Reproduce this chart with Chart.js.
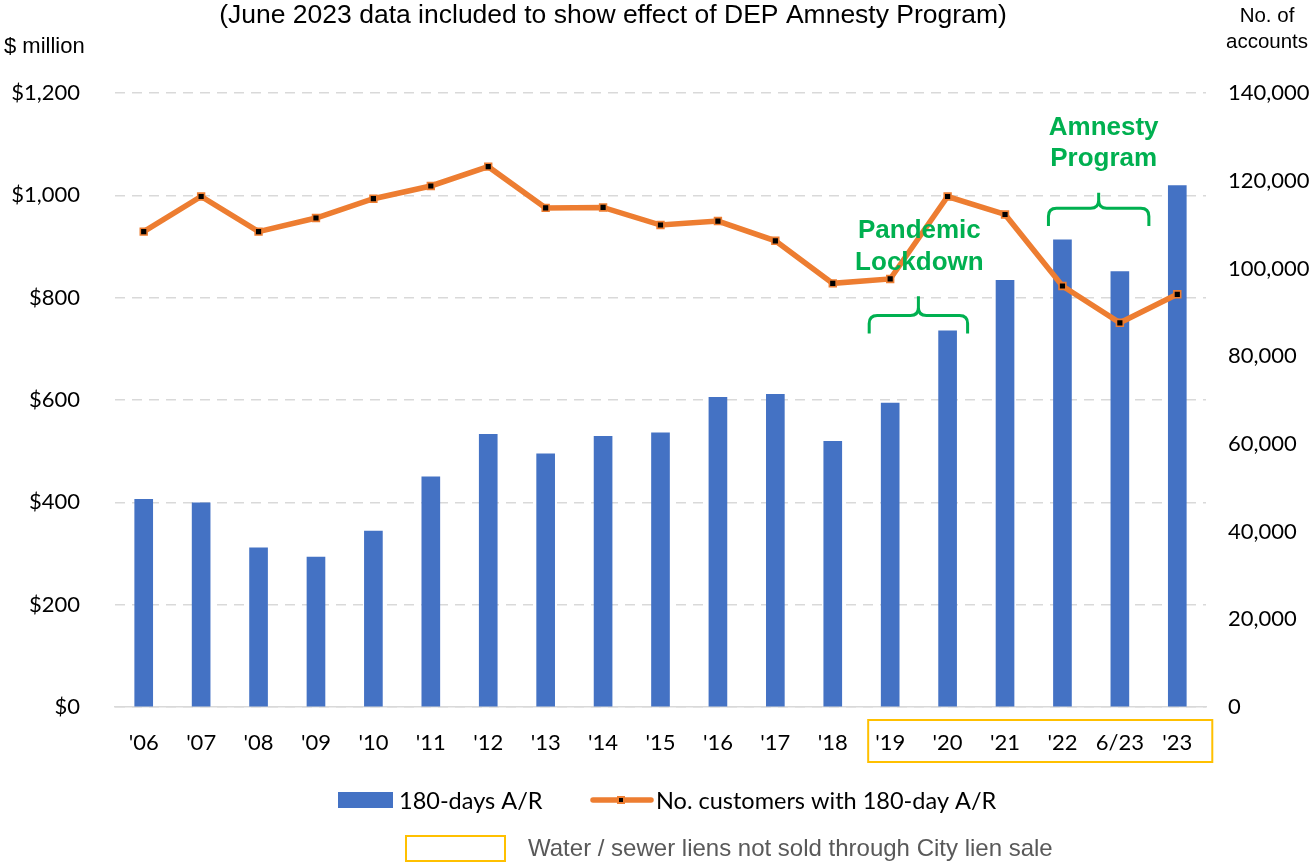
<!DOCTYPE html>
<html>
<head>
<meta charset="utf-8">
<script src="https://cdn.jsdelivr.net/npm/chart.js@4.4.1/dist/chart.umd.min.js"></script>
<style>
  html, body { margin: 0; padding: 0; background: #fff; }
  #wrap { position: relative; width: 1314px; height: 864px; }
  canvas { display: block; }
</style>
</head>
<body>
<div id="wrap"><canvas id="c" width="1314" height="864"></canvas></div>
<script>
// ---- Data ----
const categories = ["'06","'07","'08","'09","'10","'11","'12","'13","'14","'15","'16","'17","'18","'19","'20","'21","'22","6/23","'23"];
const arMillions = [406,399,311,293,344,450,533,495,529,536,605,611,519,594,735,834,913,851,1019];
const customers = [108400,116400,108400,111500,115900,118800,123200,113800,113900,109900,110800,106300,96600,97600,116400,112300,96000,87600,94100];
const leftTicks = [0,200,400,600,800,1000,1200];
const rightTicks = [0,20000,40000,60000,80000,100000,120000,140000];
const titleText = "(June 2023 data included to show effect of DEP Amnesty Program)";
const leftAxisTitle = "$ million";
const rightAxisTitle = ["No. of", "accounts"];
const seriesNames = ["180-days A/R", "No. customers with 180-day A/R"];
const boxNote = "Water / sewer liens not sold through City lien sale";
const annotations = [
  { lines: ["Pandemic", "Lockdown"], from: 13, to: 14 },
  { lines: ["Amnesty", "Program"], from: 16, to: 17 }
];
const highlightFrom = 13, highlightTo = 18;

const BLUE = '#4472C4', ORANGE = '#ED7D31', GREEN = '#00B050', GOLD = '#FFC000';
const CAL = 'Lato, "Open Sans", sans-serif';
const ARIAL = '"Liberation Sans", Arial, sans-serif';

function brace(ctx, x1, x2, yTip, yMid, yEnd) {
  const xm = (x1 + x2) / 2, r = 8;
  ctx.beginPath();
  ctx.moveTo(x1, yEnd);
  ctx.lineTo(x1, yMid + r);
  ctx.quadraticCurveTo(x1, yMid, x1 + r, yMid);
  ctx.lineTo(xm - r, yMid);
  ctx.quadraticCurveTo(xm, yMid, xm, yMid - r);
  ctx.lineTo(xm, yTip);
  ctx.moveTo(xm, yMid - r);
  ctx.quadraticCurveTo(xm, yMid, xm + r, yMid);
  ctx.lineTo(x2 - r, yMid);
  ctx.quadraticCurveTo(x2, yMid, x2, yMid + r);
  ctx.lineTo(x2, yEnd);
  ctx.stroke();
}

const extras = {
  id: 'extras',
  afterDraw(chart) {
    const ctx = chart.ctx;
    const xs = chart.scales.x, ys = chart.scales.y;
    ctx.save();
    // Title & axis titles
    ctx.fillStyle = '#000';
    ctx.textBaseline = 'middle';
    ctx.font = '26.5px ' + ARIAL;
    ctx.textAlign = 'center';
    ctx.fillText(titleText, 613, 16);
    ctx.font = '22px ' + ARIAL;
    ctx.textAlign = 'left';
    ctx.fillText(leftAxisTitle, 4, 47);
    ctx.textAlign = 'center';
    ctx.font = '20.5px ' + ARIAL;
    ctx.fillText(rightAxisTitle[0], 1267, 16);
    ctx.fillText(rightAxisTitle[1], 1267, 42);

    // Annotations
    ctx.strokeStyle = GREEN; ctx.fillStyle = GREEN; ctx.lineWidth = 3;
    ctx.font = 'bold 26px ' + ARIAL;
    ctx.textAlign = 'center';
    {
      const a = annotations[0];
      const x1 = xs.getPixelForValue(a.from) - 21, x2 = xs.getPixelForValue(a.to) + 20;
      ctx.fillText(a.lines[0], (x1 + x2) / 2 + 1, ys.getPixelForValue(930));
      ctx.fillText(a.lines[1], (x1 + x2) / 2 + 1, ys.getPixelForValue(869));
      brace(ctx, x1, x2, ys.getPixelForValue(803), ys.getPixelForValue(765), ys.getPixelForValue(730));
    }
    {
      const a = annotations[1];
      const x1 = xs.getPixelForValue(a.from) - 14, x2 = xs.getPixelForValue(a.to) + 29;
      ctx.fillText(a.lines[0], (x1 + x2) / 2 + 5, ys.getPixelForValue(1131));
      ctx.fillText(a.lines[1], (x1 + x2) / 2 + 5, ys.getPixelForValue(1071));
      brace(ctx, x1, x2, ys.getPixelForValue(1005), ys.getPixelForValue(975), ys.getPixelForValue(940));
    }

    // Highlight box around x labels
    ctx.strokeStyle = GOLD; ctx.lineWidth = 2;
    const bx1 = xs.getPixelForValue(highlightFrom) - 22;
    const bx2 = xs.getPixelForValue(highlightTo) + 35;
    ctx.strokeRect(bx1, xs.top + 13, bx2 - bx1, 42);

    // Legend row 1
    ctx.font = '23.5px ' + CAL;
    ctx.textAlign = 'left';
    ctx.fillStyle = BLUE;
    ctx.fillRect(338, 792, 55, 16);
    ctx.fillStyle = '#000';
    ctx.fillText(seriesNames[0], 399, 801);
    ctx.strokeStyle = ORANGE; ctx.lineWidth = 5.5; ctx.lineCap = 'round';
    ctx.beginPath(); ctx.moveTo(593, 800); ctx.lineTo(651, 800); ctx.stroke();
    ctx.lineCap = 'butt';
    ctx.fillStyle = ORANGE; ctx.fillRect(617, 796, 8, 8);
    ctx.fillStyle = '#000'; ctx.fillRect(619, 798, 4, 4);
    ctx.fillText(seriesNames[1], 656, 801);

    // Legend row 2
    ctx.strokeStyle = GOLD; ctx.lineWidth = 2;
    ctx.strokeRect(406, 836, 99, 25);
    ctx.fillStyle = '#595959';
    ctx.font = '24px ' + ARIAL;
    ctx.fillText(boxNote, 528, 849);
    ctx.restore();
  }
};

new Chart(document.getElementById('c'), {
  data: {
    labels: categories,
    datasets: [
      {
        type: 'line', label: seriesNames[1], data: customers, yAxisID: 'y1', order: 0,
        borderColor: ORANGE, borderWidth: 5.5, tension: 0,
        pointStyle: 'rect', pointRadius: 4.8, pointBorderWidth: 1.6,
        pointBackgroundColor: '#000', pointBorderColor: ORANGE
      },
      {
        type: 'bar', label: seriesNames[0], data: arMillions, yAxisID: 'y', order: 1,
        backgroundColor: BLUE, borderWidth: 0,
        barThickness: 18
      }
    ]
  },
  options: {
    responsive: false, animation: false, devicePixelRatio: 1,
    layout: { padding: { top: 93, bottom: 107, left: 0, right: 0 } },
    plugins: { legend: { display: false }, tooltip: { enabled: false } },
    scales: {
      x: {
        offset: true,
        grid: { display: false, drawTicks: false },
        border: { display: true, color: '#D9D9D9', width: 1.5 },
        ticks: { color: '#000', font: { family: CAL, size: 22 }, padding: 23, maxRotation: 0, autoSkip: false },
        afterFit(s) { s.height = 50; }
      },
      y: {
        position: 'left', min: 0, max: 1200,
        afterBuildTicks(s) { s.ticks = leftTicks.map(v => ({ value: v })); },
        grid: { color: '#D9D9D9', lineWidth: 1.5, drawTicks: false },
        border: { display: false, dash: [10, 7] },
        ticks: { color: '#000', font: { family: CAL, size: 22 }, padding: 35,
          callback: v => '$' + v.toLocaleString('en-US') },
        afterFit(s) { s.width = 115; }
      },
      y1: {
        position: 'right', min: 0, max: 140000,
        afterBuildTicks(s) { s.ticks = rightTicks.map(v => ({ value: v })); },
        grid: { display: false, drawTicks: false },
        border: { display: false },
        ticks: { color: '#000', font: { family: CAL, size: 22 }, padding: 22,
          callback: v => v.toLocaleString('en-US') },
        afterFit(s) { s.width = 108; }
      }
    }
  },
  plugins: [extras]
});
</script>
</body>
</html>
